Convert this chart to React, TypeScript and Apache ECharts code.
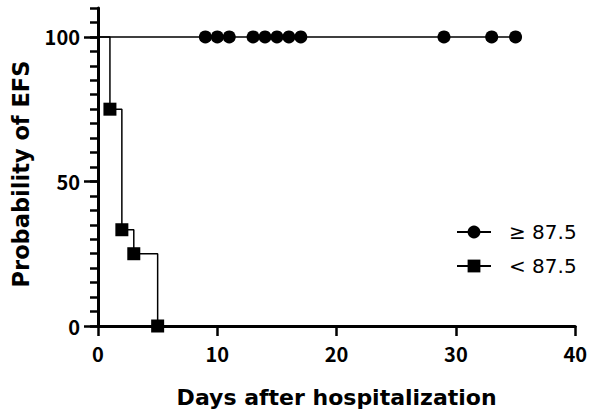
import React, { useEffect, useRef } from "react";
import * as echarts from "echarts";

const seriesNames = ["≥ 87.5", "< 87.5"];
const highDays = [0, 9, 10, 11, 13, 14, 15, 16, 17, 29, 33, 35];
const highSurv = [100, 100, 100, 100, 100, 100, 100, 100, 100, 100, 100, 100];
const lowDays = [0, 1, 2, 3, 5];
const lowSurv = [100, 75, 33.3, 25, 0];
const yMajorTicks = [0, 50, 100];
const xTitle = "Days after hospitalization";
const yTitle = "Probability of EFS";

const FONT = "'Noto Sans CJK JP', 'Noto Sans', sans-serif";
const TITLE_FONT = "'DejaVu Sans', sans-serif";

export default function App() {
  const ref = useRef<HTMLDivElement>(null);
  useEffect(() => {
    if (!ref.current) return;
    const chart = echarts.init(ref.current, undefined, { renderer: "svg" });
    const mk = (days: number[], vals: number[]) =>
      days.map((d, i) =>
        i === 0 ? { value: [d, vals[i]], symbol: "none" } : { value: [d, vals[i]] }
      );
    chart.setOption({
      animation: false,
      backgroundColor: "#fff",
      grid: { left: 98, right: 14, top: 8, bottom: 89, containLabel: false },
      legend: {
        orient: "vertical",
        left: 451,
        top: 217,
        itemWidth: 34,
        itemHeight: 16,
        itemGap: 14,
        data: seriesNames,
        textStyle: { fontSize: 20, fontFamily: TITLE_FONT, color: "#000", padding: [0, 0, 0, 13] },
      },
      xAxis: {
        type: "value",
        min: 0,
        max: 40,
        interval: 10,
        name: xTitle,
        nameLocation: "middle",
        nameGap: 60,
        nameTextStyle: { fontSize: 22, fontWeight: "bold", fontFamily: TITLE_FONT, color: "#000" },
        axisLine: { onZero: false, lineStyle: { color: "#000", width: 3 } },
        axisTick: { length: 10, lineStyle: { color: "#000", width: 2.5 } },
        axisLabel: { margin: 17, fontSize: 20, fontWeight: "bold", fontFamily: FONT, color: "#000" },
        splitLine: { show: false },
      },
      yAxis: [
        {
          type: "value",
          min: 0,
          max: 110,
          interval: 5,
          position: "left",
          axisLine: { show: true, lineStyle: { color: "#000", width: 3 } },
          axisTick: { length: 8, lineStyle: { color: "#000", width: 2.5 } },
          axisLabel: { show: false },
          splitLine: { show: false },
        },
        {
          type: "value",
          min: 0,
          max: 110,
          position: "left",
          name: yTitle,
          nameLocation: "middle",
          nameGap: 66,
          nameTextStyle: {
            fontSize: 22.5,
            fontWeight: "bold",
            fontFamily: TITLE_FONT,
            color: "#000",
            padding: [0, 14, 0, 0],
          },
          axisLine: { show: false },
          axisTick: { show: true, customValues: yMajorTicks, length: 14, lineStyle: { color: "#000", width: 2.5 } },
          axisLabel: { customValues: yMajorTicks, margin: 18, fontSize: 20, fontWeight: "bold", fontFamily: FONT, color: "#000" },
          splitLine: { show: false },
        },
      ],
      series: [
        {
          name: seriesNames[0],
          type: "line",
          step: "end",
          yAxisIndex: 0,
          data: mk(highDays, highSurv),
          symbol: "circle",
          symbolSize: 13,
          showAllSymbol: true,
          lineStyle: { color: "#000", width: 1.5 },
          itemStyle: { color: "#000" },
        },
        {
          name: seriesNames[1],
          type: "line",
          step: "end",
          yAxisIndex: 0,
          data: mk(lowDays, lowSurv),
          symbol: "rect",
          symbolSize: 13,
          showAllSymbol: true,
          lineStyle: { color: "#000", width: 1.5 },
          itemStyle: { color: "#000" },
        },
      ],
    });
    return () => chart.dispose();
  }, []);
  return <div ref={ref} style={{ width: 590, height: 415, position: "absolute", left: 0, top: 0 }} />;
}
